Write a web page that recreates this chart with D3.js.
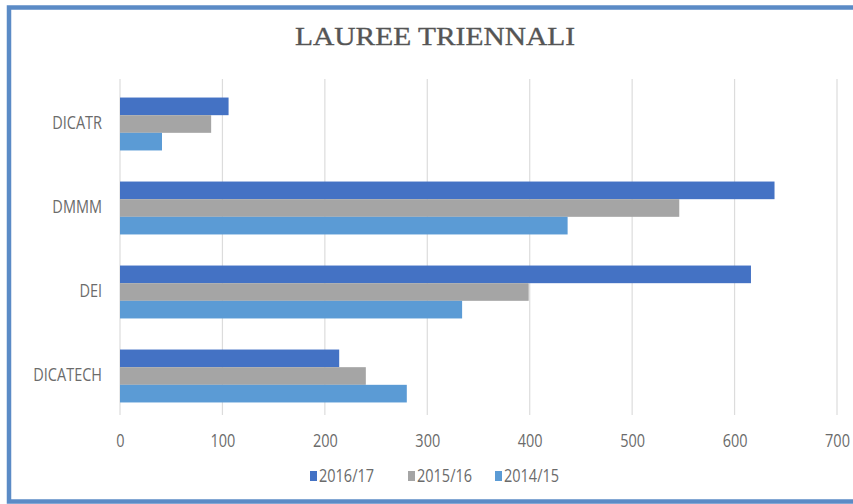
<!DOCTYPE html>
<html>
<head>
<meta charset="utf-8">
<script src="https://cdn.jsdelivr.net/npm/d3@7"></script>
<style>
  html, body { margin: 0; padding: 0; background: #fff; }
  svg { display: block; }
</style>
</head>
<body>
<svg id="chart" width="853" height="504"></svg>
<script>
// ---- data ----
const categories = ["DICATR", "DMMM", "DEI", "DICATECH"];
const seriesNames = ["2016/17", "2015/16", "2014/15"];
const values2016_17 = [106, 639, 616, 214];
const values2015_16 = [89, 546, 399, 240];
const values2014_15 = [41, 437, 334, 280];
const xTicks = [0, 100, 200, 300, 400, 500, 600, 700];
const title = "LAUREE TRIENNALI";

const seriesValues = [values2016_17, values2015_16, values2014_15];
const colors = ["#4472C4", "#A5A5A5", "#5B9BD5"];

const svg = d3.select("#chart");

// frame
svg.append("rect")
  .attr("x", 9).attr("y", 7.5)
  .attr("width", 870).attr("height", 494)
  .attr("fill", "#fff")
  .attr("stroke", "#5b8bc6")
  .attr("stroke-width", 4.5);

const plotTop = 79, plotBottom = 415;
const x = d3.scaleLinear().domain([0, 700]).range([120, 837]);
const y = d3.scaleBand().domain(categories).range([82, 418]).paddingInner(0.37).paddingOuter(0.185);
const ySub = d3.scaleBand().domain(seriesNames).range([0, y.bandwidth()]);

// gridlines
svg.append("g")
  .selectAll("line")
  .data(xTicks)
  .join("line")
  .attr("x1", d => x(d)).attr("x2", d => x(d))
  .attr("y1", plotTop).attr("y2", plotBottom)
  .attr("stroke", "#dcdcdc")
  .attr("stroke-width", 1.2);

// bars
const rows = [];
categories.forEach((c, i) => {
  seriesNames.forEach((s, j) => rows.push({ cat: c, series: s, value: seriesValues[j][i], color: colors[j] }));
});
svg.append("g")
  .selectAll("rect")
  .data(rows)
  .join("rect")
  .attr("x", x(0))
  .attr("y", d => y(d.cat) + ySub(d.series))
  .attr("width", d => x(d.value) - x(0))
  .attr("height", ySub.bandwidth())
  .attr("fill", d => d.color);

const textFont = "'Open Sans', sans-serif";

// x axis labels
const xAxis = d3.axisBottom(x).tickValues(xTicks).tickSize(0).tickPadding(0);
const gx = svg.append("g").call(xAxis);
gx.select(".domain").remove();
gx.selectAll(".tick text")
  .attr("y", 0).attr("dy", null)
  .attr("transform", "translate(0,446.5) scale(1,1.22)")
  .attr("fill", "#6b6b6b")
  .style("font-family", textFont)
  .style("font-size", "14.5px");

// y axis labels
const yAxis = d3.axisLeft(y).tickSize(0).tickPadding(0);
const gy = svg.append("g").call(yAxis);
gy.select(".domain").remove();
gy.selectAll(".tick text")
  .attr("x", 0).attr("dy", null)
  .attr("transform", "translate(102,5) scale(1,1.25)")
  .attr("fill", "#6b6b6b")
  .style("font-family", textFont)
  .style("font-size", "14.5px");
gy.selectAll(".tick").attr("transform", d => `translate(0,${y(d) + y.bandwidth() / 2})`);

// title
svg.append("text")
  .attr("x", 435).attr("y", 45)
  .attr("text-anchor", "middle")
  .attr("textLength", 280)
  .attr("lengthAdjust", "spacingAndGlyphs")
  .attr("fill", "#555")
  .attr("stroke", "#555")
  .attr("stroke-width", 0.35)
  .style("font-family", "'Liberation Serif', 'Times New Roman', serif")
  .style("font-size", "26px")
  .text(title);

// legend
const legendX = [310, 408, 495];
const lg = svg.append("g")
  .selectAll("g")
  .data(seriesNames)
  .join("g")
  .attr("transform", (d, i) => `translate(${legendX[i]},0)`);
lg.append("rect")
  .attr("x", 0).attr("y", 471)
  .attr("width", 7).attr("height", 10)
  .attr("fill", (d, i) => colors[i]);
lg.append("text")
  .attr("x", 0).attr("y", 0)
  .attr("transform", "translate(9,481.5) scale(1,1.22)")
  .attr("fill", "#6b6b6b")
  .style("font-family", textFont)
  .style("font-size", "14.5px")
  .text(d => d);
</script>
</body>
</html>
